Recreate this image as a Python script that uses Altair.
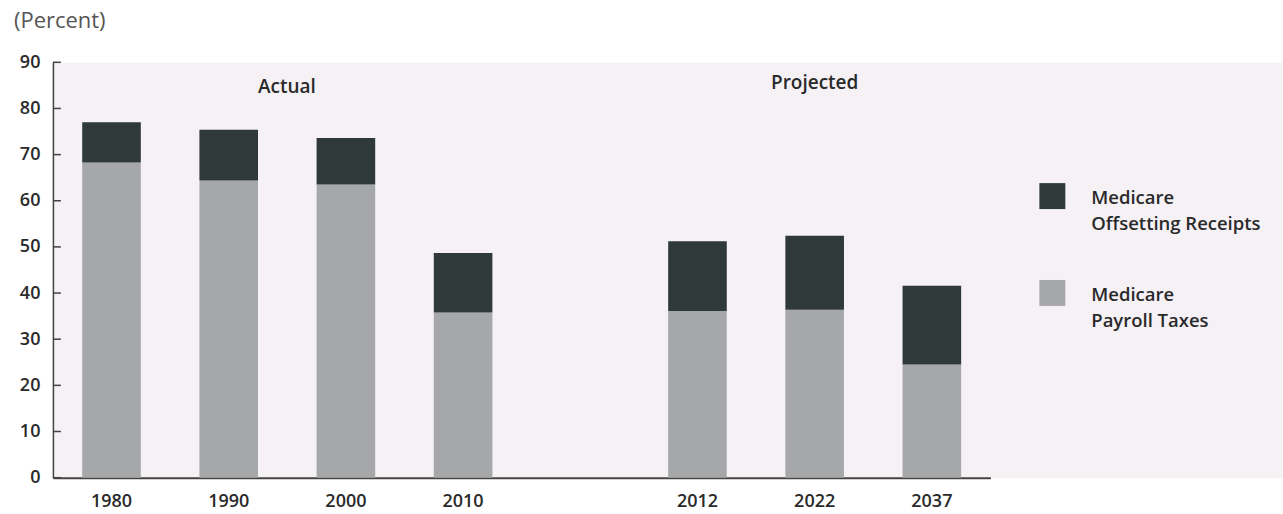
import altair as alt
import pandas as pd

# ---- data ----
years = ["1980", "1990", "2000", "2010", "2012", "2022", "2037"]
payroll_taxes = [68.3, 64.4, 63.5, 35.8, 36.1, 36.4, 24.5]
offsetting_receipts = [8.7, 11.0, 10.1, 12.9, 15.1, 16.0, 17.1]
x_domain = ["1980", "1990", "2000", "2010", " ", "2012", "2022", "2037"]
series = ["Medicare Offsetting Receipts", "Medicare Payroll Taxes"]
legend_text = ["Medicare\nOffsetting Receipts", "Medicare\nPayroll Taxes"]
series_colors = ["#2e3938", "#a6a7a9"]
y_ticks = [0, 10, 20, 30, 40, 50, 60, 70, 80, 90]
period_labels = ["Actual", "Projected"]
period_year = ["2000", "2022"]
period_value = [84.6, 85.5]

FONT = "Open Sans"
TEXT = "#2a2a2a"

rows = []
for y, p, o in zip(years, payroll_taxes, offsetting_receipts):
    rows.append({"year": y, "series": series[1], "value": p, "order": 0})
    rows.append({"year": y, "series": series[0], "value": o, "order": 1})
bars_df = pd.DataFrame(rows)

x_scale = alt.Scale(domain=x_domain, paddingInner=0.5, paddingOuter=0.25)
y_scale = alt.Scale(domain=[0, 90], nice=False)
color_scale = alt.Scale(domain=series, range=series_colors)

bars = alt.Chart(bars_df).mark_bar().encode(
    x=alt.X("year:N", scale=x_scale, sort=x_domain,
            axis=alt.Axis(title=None, labelAngle=0, ticks=False, labelPadding=15,
                          labelFontSize=18, labelFont=FONT, labelFontWeight=600,
                          labelColor=TEXT, domainColor="#444", domainWidth=2)),
    y=alt.Y("value:Q", stack="zero", scale=y_scale,
            axis=alt.Axis(title=None, values=y_ticks, grid=False, ticks=False,
                          labelPadding=13, labelFontSize=18, labelFont=FONT,
                          labelFontWeight=600, labelColor=TEXT,
                          domainColor="#444", domainWidth=1.5)),
    color=alt.Color("series:N", scale=color_scale, legend=None),
    order=alt.Order("order:Q"),
)

ticks_df = pd.DataFrame({"tick": y_ticks})
tick_rules = alt.Chart(ticks_df).mark_rule(color="#444", strokeWidth=1.5).encode(
    y=alt.Y("tick:Q", scale=y_scale),
    x=alt.value(0),
    x2=alt.value(8),
)

periods_df = pd.DataFrame({"year": period_year, "label": period_labels, "value": period_value})
text_layers = []
for lab, shift in zip(period_labels, [-59, 0]):
    text_layers.append(
        alt.Chart(periods_df).transform_filter(alt.datum.label == lab).mark_text(
            font=FONT, fontSize=19, fontWeight=600, color=TEXT,
            baseline="middle", align="center", dx=shift,
        ).encode(
            x=alt.X("year:N", scale=x_scale, sort=x_domain),
            y=alt.Y("value:Q", scale=y_scale),
            text="label:N",
        )
    )

main = alt.layer(bars, tick_rules, *text_layers).properties(
    width=939,
    height=416,
    title=alt.TitleParams("(Percent)", anchor="start", frame="group", dx=-39, offset=20,
                          fontSize=22, font=FONT, fontWeight="normal", color="#555"),
)

legend_df = pd.DataFrame({"series": series, "label": legend_text})
leg_y = alt.Y("series:N", scale=alt.Scale(domain=series, range=[134, 231], padding=0), axis=None)
leg_squares = alt.Chart(legend_df).mark_square(size=676, opacity=1).encode(
    x=alt.value(62),
    y=leg_y,
    color=alt.Color("series:N", scale=color_scale, legend=None),
)
leg_labels = alt.Chart(legend_df).mark_text(
    font=FONT, fontSize=18.5, fontWeight=600, color=TEXT, align="left",
    baseline="middle", lineBreak="\n", lineHeight=26, dy=2,
).encode(
    x=alt.value(101),
    y=leg_y,
    text="label:N",
)
legend = alt.layer(leg_squares, leg_labels).properties(width=292, height=416)

chart = alt.hconcat(main, legend, spacing=0, bounds="flush").properties(
    padding={"left": 13, "top": 9, "right": 0, "bottom": 0}
).configure_view(fill="#f5f1f5", stroke="transparent")

chart.save("out.html", embed_options={"renderer": "svg", "actions": False})
